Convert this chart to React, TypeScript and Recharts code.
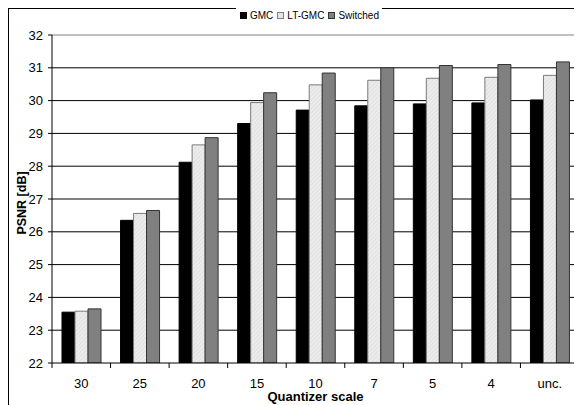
import { BarChart, Bar, XAxis, YAxis, CartesianGrid, ReferenceLine } from 'recharts';

const categories = ['30', '25', '20', '15', '10', '7', '5', '4', 'unc.'];
const gmc = [23.55, 26.35, 28.12, 29.3, 29.71, 29.84, 29.9, 29.93, 30.02];
const ltGmc = [23.58, 26.56, 28.65, 29.94, 30.48, 30.62, 30.68, 30.71, 30.77];
const switched = [23.65, 26.65, 28.87, 30.24, 30.84, 31.0, 31.07, 31.1, 31.18];
const yTicks = [22, 23, 24, 25, 26, 27, 28, 29, 30, 31, 32];
const gridValues = [23, 24, 25, 26, 27, 28, 29, 30, 31];

const data = categories.map((name, i) => ({
  name,
  gmc: gmc[i],
  lt: ltGmc[i],
  sw: switched[i],
}));

const FONT = '"Liberation Sans", Arial, sans-serif';
const W = 574;
const H = 397;
const PLOT_W = 527;
const BAND = PLOT_W / categories.length;

function XTick(props: any) {
  const { x, y, payload } = props;
  const idx = categories.indexOf(payload.value);
  const left = x - BAND / 2;
  return (
    <g>
      <line x1={left} y1={y} x2={left} y2={y + 5} stroke="#000" />
      {idx === categories.length - 1 && (
        <line x1={x + BAND / 2} y1={y} x2={x + BAND / 2} y2={y + 5} stroke="#000" />
      )}
      <text x={x} y={y + 24.5} textAnchor="middle" fontSize={13} fontFamily={FONT} fill="#000">
        {payload.value}
      </text>
    </g>
  );
}

const legendItems = [
  { label: 'GMC', fill: '#000', border: '#000' },
  { label: 'LT-GMC', fill: '#e6e6e6', border: '#808080' },
  { label: 'Switched', fill: '#808080', border: '#333' },
];

export default function App() {
  return (
    <div style={{ position: 'relative', width: W, height: H, fontFamily: FONT }}>
      <BarChart
        width={W}
        height={H}
        data={data}
        margin={{ top: 27, right: 0, left: 0, bottom: 0 }}
        barGap={0}
      >
        <defs>
          <pattern id="hatch" width="3" height="3" patternUnits="userSpaceOnUse" patternTransform="rotate(45)">
            <rect width="3" height="3" fill="#ececec" />
            <line x1="0" y1="0" x2="0" y2="3" stroke="#d4d4d4" strokeWidth="1" />
          </pattern>
        </defs>
        <CartesianGrid vertical={false} stroke="#000" horizontalValues={gridValues} />
        <XAxis
          dataKey="name"
          height={42}
          interval={0}
          tickSize={0}
          tickMargin={0}
          tickLine={false}
          axisLine={{ stroke: '#000' }}
          tick={<XTick />}
          label={{
            value: 'Quantizer scale',
            position: 'insideBottom',
            offset: 4,
            fontSize: 13,
            fontWeight: 'bold',
            fontFamily: FONT,
            fill: '#000',
          }}
        />
        <YAxis
          width={44}
          domain={[22, 32]}
          ticks={yTicks}
          interval={0}
          allowDataOverflow
          tickSize={4}
          tickMargin={5}
          axisLine={{ stroke: '#000' }}
          tickLine={{ stroke: '#000' }}
          tick={{ fontSize: 13, fill: '#000', fontFamily: FONT }}
          label={{
            value: 'PSNR [dB]',
            angle: -90,
            position: 'center',
            dx: -8,
            dy: 4,
            fontSize: 12.5,
            fontWeight: 'bold',
            fontFamily: FONT,
            fill: '#000',
          }}
        />
        <YAxis
          yAxisId="r"
          orientation="right"
          width={3}
          domain={[22, 32]}
          tick={false}
          tickLine={false}
          axisLine={{ stroke: '#808080' }}
        />
        <ReferenceLine y={32} stroke="#808080" />
        <Bar dataKey="gmc" name="GMC" fill="#000" stroke="#000" barSize={13} isAnimationActive={false} />
        <Bar dataKey="lt" name="LT-GMC" fill="url(#hatch)" stroke="#7a7a7a" barSize={13} isAnimationActive={false} />
        <Bar dataKey="sw" name="Switched" fill="#808080" stroke="#333" barSize={13} isAnimationActive={false} />
      </BarChart>
      <div
        style={{
          position: 'absolute',
          left: 0,
          top: 0,
          right: 0,
          bottom: 0,
          borderTop: '1px solid #000',
          borderLeft: '1px solid #000',
          pointerEvents: 'none',
        }}
      />
      <div
        style={{
          position: 'absolute',
          left: 228,
          top: -1,
          height: 16,
          width: 146,
          background: '#fff',
          display: 'flex',
          alignItems: 'center',
          paddingLeft: 4,
          boxSizing: 'border-box',
          fontSize: 10,
          color: '#000',
          whiteSpace: 'nowrap',
        }}
      >
        {legendItems.map((it) => (
          <span key={it.label} style={{ display: 'flex', alignItems: 'center', marginRight: 4 }}>
            <span
              style={{
                display: 'inline-block',
                width: 5,
                height: 5,
                background: it.fill,
                border: `1px solid ${it.border}`,
                marginRight: 3,
              }}
            />
            {it.label}
          </span>
        ))}
      </div>
    </div>
  );
}
